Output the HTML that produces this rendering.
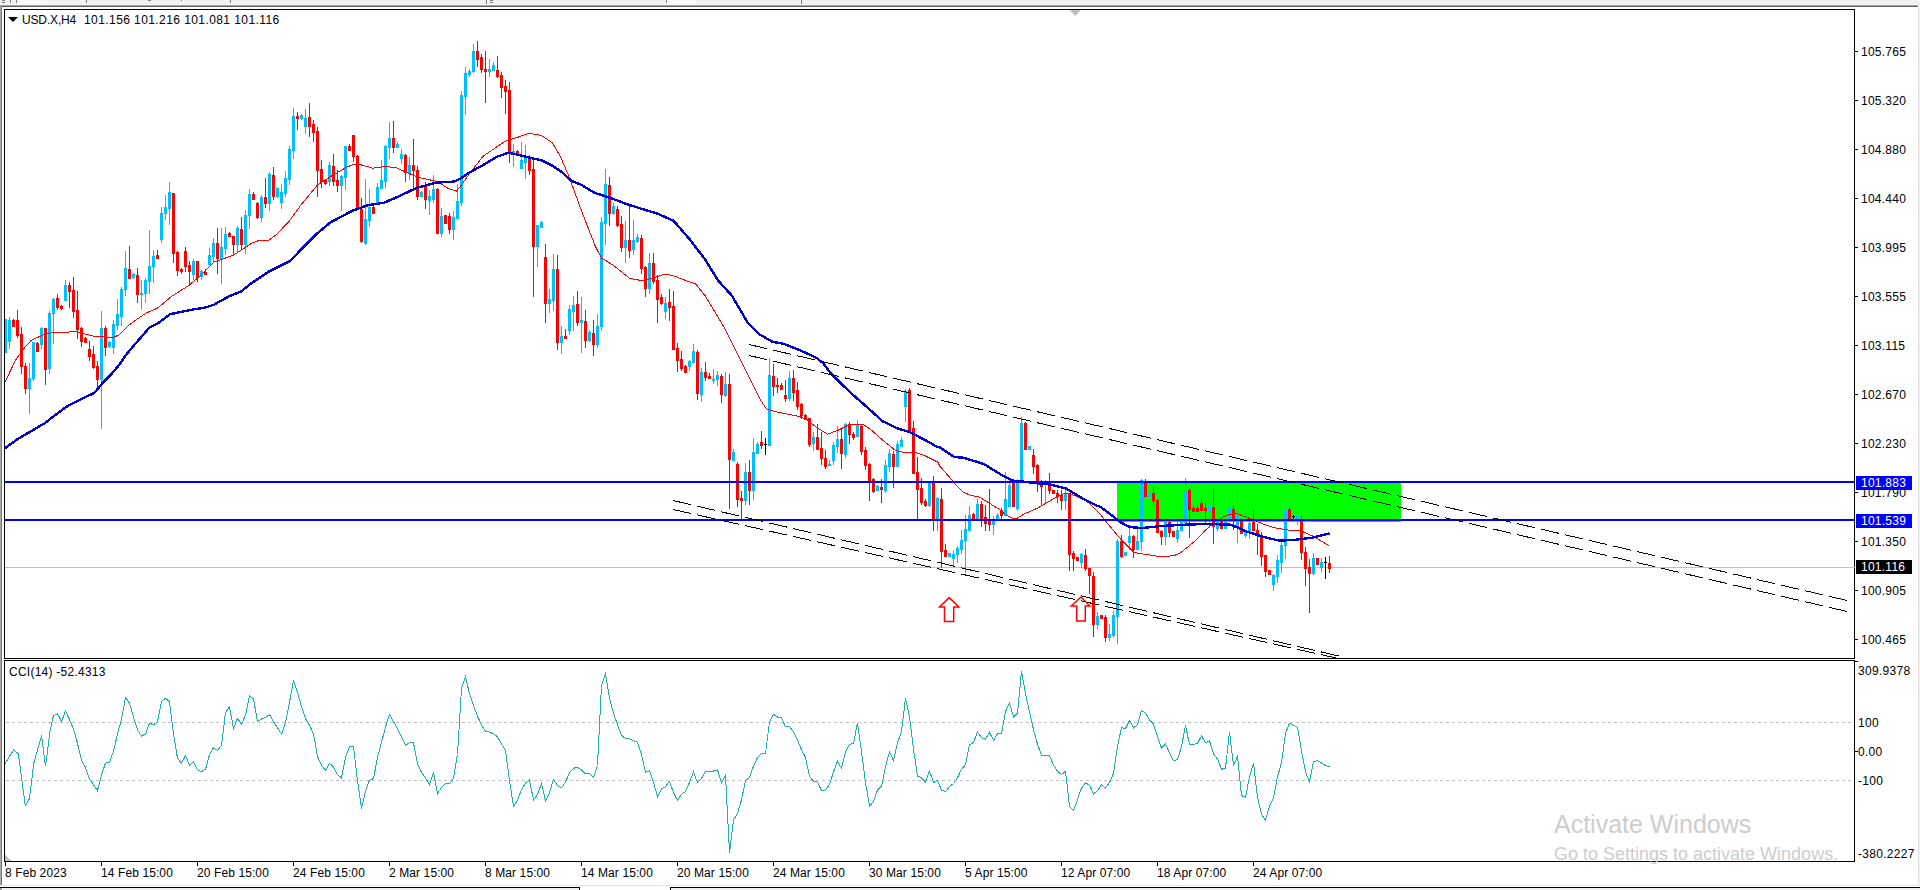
<!DOCTYPE html>
<html><head><meta charset="utf-8"><style>
html,body{margin:0;padding:0;}
body{width:1920px;height:890px;overflow:hidden;position:relative;background:#fff;font-family:"Liberation Sans",sans-serif;}
.t{position:absolute;font-size:12px;line-height:14px;letter-spacing:0.1px;color:#000;white-space:nowrap;}
.pl{position:absolute;left:1861px;font-size:12px;line-height:14px;letter-spacing:0.25px;color:#000;white-space:nowrap;}
.cl{position:absolute;left:1858px;font-size:12px;line-height:14px;letter-spacing:0.3px;color:#000;white-space:nowrap;}
.tl{position:absolute;top:866px;font-size:12px;line-height:14px;letter-spacing:0.1px;color:#000;white-space:nowrap;}
.box{position:absolute;left:1856px;width:56px;height:14px;}
.bt{position:absolute;left:1861px;font-size:12px;line-height:14px;letter-spacing:0.25px;color:#fff;white-space:nowrap;}
</style></head><body>
<svg width="1920" height="890" style="position:absolute;left:0;top:0" shape-rendering="crispEdges">
<rect x="0" y="0" width="1920" height="5" fill="#f0f0f0"/>
<rect x="0" y="4" width="1920" height="1" fill="#f8f8f8"/>
<rect x="0" y="5" width="1918" height="1" fill="#a0a0a0"/>
<rect x="0" y="6" width="1918" height="1" fill="#646464"/>
<rect x="0" y="6" width="1" height="879" fill="#a8a8a8"/><rect x="1" y="6" width="1" height="879" fill="#787878"/>
<rect x="1918" y="7" width="1" height="879" fill="#e3e3e3"/>
<rect x="1919" y="0" width="1" height="890" fill="#f0f0f0"/>
<rect x="2" y="885" width="1917" height="1" fill="#e3e3e3"/>
<rect x="0" y="888" width="1920" height="2" fill="#f0f0f0"/>
<rect x="0" y="887" width="580" height="1" fill="#000"/>
<rect x="670" y="887" width="1250" height="1" fill="#000"/>
<rect x="579" y="887" width="1" height="3" fill="#000"/>
<rect x="580" y="888" width="90" height="2" fill="#fff"/>
<rect x="670" y="887" width="1" height="3" fill="#000"/>
<rect x="2" y="888" width="1" height="2" fill="#fff"/>
<rect x="0" y="888" width="2" height="2" fill="#a0a0a0"/>
<!-- top bar marks -->
<rect x="2" y="0" width="3" height="1" fill="#808080"/><rect x="2" y="2" width="3" height="1" fill="#808080"/>
<rect x="10" y="0" width="1" height="3" fill="#808080"/>
<rect x="16" y="0" width="1" height="3" fill="#808080"/>
<rect x="17" y="0" width="30" height="4" fill="#f8f8f8"/>
<rect x="86" y="0" width="1" height="3" fill="#808080"/>
<rect x="148" y="0" width="3" height="1" fill="#808080"/>
<rect x="181" y="0" width="1" height="1" fill="#808080"/>
<rect x="230" y="0" width="1" height="3" fill="#808080"/>
<rect x="486" y="0" width="1" height="4" fill="#808080"/>
<rect x="490" y="0" width="3" height="1" fill="#808080"/><rect x="490" y="2" width="3" height="1" fill="#808080"/>
<rect x="666" y="0" width="1" height="3" fill="#808080"/>
<rect x="667" y="0" width="30" height="4" fill="#f8f8f8"/>
<rect x="801" y="0" width="1" height="4" fill="#808080"/>
<!-- green box -->
<rect x="1117" y="482" width="284" height="40" fill="#00ff00"/>
<!-- current price line -->
<rect x="5" y="567" width="1849" height="1" fill="#c0c0c0"/>
<!-- CCI levels -->
<line x1="6" y1="722.5" x2="1854" y2="722.5" stroke="#c0c0c0" stroke-width="1" stroke-dasharray="3 3"/>
<line x1="6" y1="780.5" x2="1854" y2="780.5" stroke="#c0c0c0" stroke-width="1" stroke-dasharray="3 3"/>
</svg>
<svg width="1920" height="890" style="position:absolute;left:0;top:0" shape-rendering="crispEdges">
<defs><clipPath id="mc"><rect x="5" y="10" width="1849" height="648"/></clipPath>
<clipPath id="cc"><rect x="5" y="661" width="1849" height="200"/></clipPath></defs>
<g clip-path="url(#mc)">
<g shape-rendering="crispEdges"><rect x="5" y="319" width="1" height="34" fill="#00bfff"/><rect x="4" y="319" width="3" height="34" fill="#00bfff"/><rect x="9" y="317" width="1" height="32" fill="#00bfff"/><rect x="8" y="320" width="3" height="22" fill="#00bfff"/><rect x="13" y="319" width="1" height="8" fill="#ff0000"/><rect x="12" y="320" width="3" height="7" fill="#ff0000"/><rect x="17" y="310" width="1" height="28" fill="#ff0000"/><rect x="16" y="320" width="3" height="16" fill="#ff0000"/><rect x="21" y="327" width="1" height="47" fill="#ff0000"/><rect x="20" y="334" width="3" height="33" fill="#ff0000"/><rect x="25" y="363" width="1" height="31" fill="#ff0000"/><rect x="24" y="366" width="3" height="23" fill="#ff0000"/><rect x="29" y="363" width="1" height="51" fill="#00bfff"/><rect x="28" y="378" width="3" height="11" fill="#00bfff"/><rect x="33" y="342" width="1" height="39" fill="#00bfff"/><rect x="32" y="342" width="3" height="37" fill="#00bfff"/><rect x="37" y="342" width="1" height="10" fill="#ff0000"/><rect x="36" y="343" width="3" height="9" fill="#ff0000"/><rect x="41" y="327" width="1" height="22" fill="#00bfff"/><rect x="40" y="328" width="3" height="17" fill="#00bfff"/><rect x="45" y="328" width="1" height="57" fill="#ff0000"/><rect x="44" y="328" width="3" height="42" fill="#ff0000"/><rect x="49" y="311" width="1" height="63" fill="#00bfff"/><rect x="48" y="313" width="3" height="56" fill="#00bfff"/><rect x="53" y="298" width="1" height="46" fill="#00bfff"/><rect x="52" y="299" width="3" height="15" fill="#00bfff"/><rect x="57" y="294" width="1" height="16" fill="#ff0000"/><rect x="56" y="298" width="3" height="10" fill="#ff0000"/><rect x="61" y="305" width="1" height="5" fill="#ff0000"/><rect x="60" y="306" width="3" height="3" fill="#ff0000"/><rect x="65" y="280" width="1" height="21" fill="#00bfff"/><rect x="64" y="285" width="3" height="16" fill="#00bfff"/><rect x="69" y="282" width="1" height="26" fill="#ff0000"/><rect x="68" y="285" width="3" height="7" fill="#ff0000"/><rect x="73" y="277" width="1" height="41" fill="#ff0000"/><rect x="72" y="290" width="3" height="22" fill="#ff0000"/><rect x="77" y="291" width="1" height="48" fill="#ff0000"/><rect x="76" y="310" width="3" height="20" fill="#ff0000"/><rect x="81" y="327" width="1" height="20" fill="#ff0000"/><rect x="80" y="328" width="3" height="14" fill="#ff0000"/><rect x="85" y="337" width="1" height="6" fill="#ff0000"/><rect x="84" y="338" width="3" height="5" fill="#ff0000"/><rect x="89" y="341" width="1" height="20" fill="#ff0000"/><rect x="88" y="349" width="3" height="8" fill="#ff0000"/><rect x="93" y="346" width="1" height="23" fill="#ff0000"/><rect x="92" y="354" width="3" height="14" fill="#ff0000"/><rect x="97" y="361" width="1" height="27" fill="#ff0000"/><rect x="96" y="366" width="3" height="14" fill="#ff0000"/><rect x="101" y="311" width="1" height="118" fill="#00bfff"/><rect x="100" y="328" width="3" height="52" fill="#00bfff"/><rect x="105" y="326" width="1" height="30" fill="#ff0000"/><rect x="104" y="328" width="3" height="20" fill="#ff0000"/><rect x="109" y="341" width="1" height="7" fill="#00bfff"/><rect x="108" y="342" width="3" height="5" fill="#00bfff"/><rect x="113" y="320" width="1" height="34" fill="#00bfff"/><rect x="112" y="324" width="3" height="24" fill="#00bfff"/><rect x="117" y="299" width="1" height="31" fill="#00bfff"/><rect x="116" y="314" width="3" height="12" fill="#00bfff"/><rect x="121" y="287" width="1" height="39" fill="#00bfff"/><rect x="120" y="289" width="3" height="28" fill="#00bfff"/><rect x="125" y="251" width="1" height="45" fill="#00bfff"/><rect x="124" y="268" width="3" height="22" fill="#00bfff"/><rect x="129" y="246" width="1" height="33" fill="#ff0000"/><rect x="128" y="269" width="3" height="10" fill="#ff0000"/><rect x="133" y="273" width="1" height="6" fill="#00bfff"/><rect x="132" y="274" width="3" height="4" fill="#00bfff"/><rect x="137" y="268" width="1" height="35" fill="#ff0000"/><rect x="136" y="275" width="3" height="20" fill="#ff0000"/><rect x="141" y="280" width="1" height="30" fill="#00bfff"/><rect x="140" y="293" width="3" height="2" fill="#00bfff"/><rect x="145" y="278" width="1" height="25" fill="#00bfff"/><rect x="144" y="280" width="3" height="14" fill="#00bfff"/><rect x="149" y="230" width="1" height="64" fill="#00bfff"/><rect x="148" y="266" width="3" height="16" fill="#00bfff"/><rect x="153" y="250" width="1" height="33" fill="#00bfff"/><rect x="152" y="256" width="3" height="11" fill="#00bfff"/><rect x="157" y="250" width="1" height="9" fill="#ff0000"/><rect x="156" y="255" width="3" height="4" fill="#ff0000"/><rect x="161" y="207" width="1" height="36" fill="#00bfff"/><rect x="160" y="213" width="3" height="27" fill="#00bfff"/><rect x="165" y="195" width="1" height="25" fill="#00bfff"/><rect x="164" y="207" width="3" height="7" fill="#00bfff"/><rect x="169" y="182" width="1" height="43" fill="#00bfff"/><rect x="168" y="192" width="3" height="17" fill="#00bfff"/><rect x="173" y="193" width="1" height="70" fill="#ff0000"/><rect x="172" y="193" width="3" height="61" fill="#ff0000"/><rect x="177" y="251" width="1" height="25" fill="#ff0000"/><rect x="176" y="252" width="3" height="19" fill="#ff0000"/><rect x="181" y="268" width="1" height="6" fill="#ff0000"/><rect x="180" y="269" width="3" height="3" fill="#ff0000"/><rect x="185" y="247" width="1" height="25" fill="#ff0000"/><rect x="184" y="251" width="3" height="16" fill="#ff0000"/><rect x="189" y="261" width="1" height="25" fill="#ff0000"/><rect x="188" y="265" width="3" height="7" fill="#ff0000"/><rect x="193" y="259" width="1" height="21" fill="#00bfff"/><rect x="192" y="261" width="3" height="14" fill="#00bfff"/><rect x="197" y="261" width="1" height="21" fill="#ff0000"/><rect x="196" y="261" width="3" height="17" fill="#ff0000"/><rect x="201" y="270" width="1" height="10" fill="#00bfff"/><rect x="200" y="271" width="3" height="6" fill="#00bfff"/><rect x="205" y="269" width="1" height="6" fill="#ff0000"/><rect x="204" y="272" width="3" height="3" fill="#ff0000"/><rect x="209" y="248" width="1" height="17" fill="#00bfff"/><rect x="208" y="255" width="3" height="10" fill="#00bfff"/><rect x="213" y="238" width="1" height="25" fill="#00bfff"/><rect x="212" y="243" width="3" height="14" fill="#00bfff"/><rect x="217" y="228" width="1" height="46" fill="#ff0000"/><rect x="216" y="243" width="3" height="16" fill="#ff0000"/><rect x="221" y="228" width="1" height="56" fill="#00bfff"/><rect x="220" y="247" width="3" height="12" fill="#00bfff"/><rect x="225" y="227" width="1" height="28" fill="#00bfff"/><rect x="224" y="234" width="3" height="15" fill="#00bfff"/><rect x="229" y="232" width="1" height="5" fill="#ff0000"/><rect x="228" y="233" width="3" height="4" fill="#ff0000"/><rect x="233" y="236" width="1" height="19" fill="#ff0000"/><rect x="232" y="236" width="3" height="9" fill="#ff0000"/><rect x="237" y="226" width="1" height="27" fill="#00bfff"/><rect x="236" y="228" width="3" height="17" fill="#00bfff"/><rect x="241" y="217" width="1" height="32" fill="#ff0000"/><rect x="240" y="229" width="3" height="16" fill="#ff0000"/><rect x="245" y="210" width="1" height="44" fill="#00bfff"/><rect x="244" y="215" width="3" height="30" fill="#00bfff"/><rect x="249" y="189" width="1" height="40" fill="#00bfff"/><rect x="248" y="194" width="3" height="22" fill="#00bfff"/><rect x="253" y="192" width="1" height="8" fill="#ff0000"/><rect x="252" y="194" width="3" height="6" fill="#ff0000"/><rect x="257" y="202" width="1" height="17" fill="#ff0000"/><rect x="256" y="203" width="3" height="15" fill="#ff0000"/><rect x="261" y="195" width="1" height="27" fill="#00bfff"/><rect x="260" y="197" width="3" height="21" fill="#00bfff"/><rect x="265" y="178" width="1" height="30" fill="#ff0000"/><rect x="264" y="197" width="3" height="7" fill="#ff0000"/><rect x="269" y="172" width="1" height="39" fill="#00bfff"/><rect x="268" y="174" width="3" height="30" fill="#00bfff"/><rect x="273" y="167" width="1" height="33" fill="#ff0000"/><rect x="272" y="175" width="3" height="22" fill="#ff0000"/><rect x="277" y="187" width="1" height="11" fill="#00bfff"/><rect x="276" y="188" width="3" height="9" fill="#00bfff"/><rect x="281" y="184" width="1" height="25" fill="#00bfff"/><rect x="280" y="192" width="3" height="11" fill="#00bfff"/><rect x="285" y="171" width="1" height="26" fill="#00bfff"/><rect x="284" y="178" width="3" height="16" fill="#00bfff"/><rect x="289" y="146" width="1" height="39" fill="#00bfff"/><rect x="288" y="149" width="3" height="31" fill="#00bfff"/><rect x="293" y="108" width="1" height="51" fill="#00bfff"/><rect x="292" y="116" width="3" height="35" fill="#00bfff"/><rect x="297" y="112" width="1" height="18" fill="#ff0000"/><rect x="296" y="116" width="3" height="3" fill="#ff0000"/><rect x="301" y="114" width="1" height="6" fill="#00bfff"/><rect x="300" y="115" width="3" height="4" fill="#00bfff"/><rect x="305" y="109" width="1" height="25" fill="#00bfff"/><rect x="304" y="118" width="3" height="9" fill="#00bfff"/><rect x="309" y="103" width="1" height="34" fill="#ff0000"/><rect x="308" y="117" width="3" height="10" fill="#ff0000"/><rect x="313" y="120" width="1" height="22" fill="#ff0000"/><rect x="312" y="124" width="3" height="9" fill="#ff0000"/><rect x="317" y="127" width="1" height="70" fill="#ff0000"/><rect x="316" y="131" width="3" height="40" fill="#ff0000"/><rect x="321" y="160" width="1" height="28" fill="#ff0000"/><rect x="320" y="169" width="3" height="13" fill="#ff0000"/><rect x="325" y="180" width="1" height="5" fill="#ff0000"/><rect x="324" y="180" width="3" height="4" fill="#ff0000"/><rect x="329" y="162" width="1" height="24" fill="#00bfff"/><rect x="328" y="165" width="3" height="17" fill="#00bfff"/><rect x="333" y="154" width="1" height="32" fill="#ff0000"/><rect x="332" y="166" width="3" height="16" fill="#ff0000"/><rect x="337" y="170" width="1" height="22" fill="#ff0000"/><rect x="336" y="180" width="3" height="6" fill="#ff0000"/><rect x="341" y="175" width="1" height="36" fill="#00bfff"/><rect x="340" y="176" width="3" height="10" fill="#00bfff"/><rect x="345" y="146" width="1" height="44" fill="#00bfff"/><rect x="344" y="146" width="3" height="32" fill="#00bfff"/><rect x="349" y="144" width="1" height="7" fill="#ff0000"/><rect x="348" y="146" width="3" height="5" fill="#ff0000"/><rect x="353" y="135" width="1" height="27" fill="#ff0000"/><rect x="352" y="135" width="3" height="22" fill="#ff0000"/><rect x="357" y="155" width="1" height="55" fill="#ff0000"/><rect x="356" y="156" width="3" height="54" fill="#ff0000"/><rect x="361" y="198" width="1" height="45" fill="#ff0000"/><rect x="360" y="209" width="3" height="33" fill="#ff0000"/><rect x="365" y="179" width="1" height="66" fill="#00bfff"/><rect x="364" y="219" width="3" height="25" fill="#00bfff"/><rect x="369" y="189" width="1" height="38" fill="#00bfff"/><rect x="368" y="207" width="3" height="14" fill="#00bfff"/><rect x="373" y="206" width="1" height="8" fill="#ff0000"/><rect x="372" y="207" width="3" height="7" fill="#ff0000"/><rect x="377" y="183" width="1" height="22" fill="#00bfff"/><rect x="376" y="187" width="3" height="16" fill="#00bfff"/><rect x="381" y="160" width="1" height="29" fill="#00bfff"/><rect x="380" y="180" width="3" height="9" fill="#00bfff"/><rect x="385" y="145" width="1" height="43" fill="#00bfff"/><rect x="384" y="146" width="3" height="36" fill="#00bfff"/><rect x="389" y="122" width="1" height="37" fill="#00bfff"/><rect x="388" y="138" width="3" height="10" fill="#00bfff"/><rect x="393" y="121" width="1" height="32" fill="#ff0000"/><rect x="392" y="138" width="3" height="10" fill="#ff0000"/><rect x="397" y="142" width="1" height="6" fill="#00bfff"/><rect x="396" y="144" width="3" height="4" fill="#00bfff"/><rect x="401" y="149" width="1" height="15" fill="#00bfff"/><rect x="400" y="154" width="3" height="5" fill="#00bfff"/><rect x="405" y="154" width="1" height="28" fill="#ff0000"/><rect x="404" y="155" width="3" height="18" fill="#ff0000"/><rect x="409" y="157" width="1" height="23" fill="#00bfff"/><rect x="408" y="165" width="3" height="8" fill="#00bfff"/><rect x="413" y="139" width="1" height="49" fill="#ff0000"/><rect x="412" y="165" width="3" height="6" fill="#ff0000"/><rect x="417" y="166" width="1" height="34" fill="#ff0000"/><rect x="416" y="170" width="3" height="27" fill="#ff0000"/><rect x="421" y="191" width="1" height="6" fill="#00bfff"/><rect x="420" y="192" width="3" height="5" fill="#00bfff"/><rect x="425" y="182" width="1" height="27" fill="#ff0000"/><rect x="424" y="186" width="3" height="14" fill="#ff0000"/><rect x="429" y="190" width="1" height="25" fill="#00bfff"/><rect x="428" y="196" width="3" height="5" fill="#00bfff"/><rect x="433" y="175" width="1" height="28" fill="#00bfff"/><rect x="432" y="189" width="3" height="11" fill="#00bfff"/><rect x="437" y="188" width="1" height="46" fill="#ff0000"/><rect x="436" y="189" width="3" height="45" fill="#ff0000"/><rect x="441" y="208" width="1" height="29" fill="#00bfff"/><rect x="440" y="216" width="3" height="18" fill="#00bfff"/><rect x="445" y="215" width="1" height="9" fill="#ff0000"/><rect x="444" y="215" width="3" height="9" fill="#ff0000"/><rect x="449" y="213" width="1" height="21" fill="#ff0000"/><rect x="448" y="216" width="3" height="14" fill="#ff0000"/><rect x="453" y="211" width="1" height="29" fill="#00bfff"/><rect x="452" y="217" width="3" height="13" fill="#00bfff"/><rect x="457" y="184" width="1" height="35" fill="#00bfff"/><rect x="456" y="201" width="3" height="18" fill="#00bfff"/><rect x="461" y="91" width="1" height="115" fill="#00bfff"/><rect x="460" y="95" width="3" height="108" fill="#00bfff"/><rect x="465" y="67" width="1" height="48" fill="#00bfff"/><rect x="464" y="73" width="3" height="24" fill="#00bfff"/><rect x="469" y="69" width="1" height="8" fill="#00bfff"/><rect x="468" y="71" width="3" height="4" fill="#00bfff"/><rect x="473" y="44" width="1" height="29" fill="#00bfff"/><rect x="472" y="51" width="3" height="21" fill="#00bfff"/><rect x="477" y="41" width="1" height="26" fill="#ff0000"/><rect x="476" y="51" width="3" height="9" fill="#ff0000"/><rect x="481" y="54" width="1" height="19" fill="#ff0000"/><rect x="480" y="57" width="3" height="13" fill="#ff0000"/><rect x="485" y="51" width="1" height="52" fill="#ff0000"/><rect x="484" y="69" width="3" height="3" fill="#ff0000"/><rect x="489" y="59" width="1" height="18" fill="#00bfff"/><rect x="488" y="69" width="3" height="3" fill="#00bfff"/><rect x="493" y="62" width="1" height="9" fill="#00bfff"/><rect x="492" y="65" width="3" height="6" fill="#00bfff"/><rect x="497" y="56" width="1" height="22" fill="#ff0000"/><rect x="496" y="70" width="3" height="7" fill="#ff0000"/><rect x="501" y="72" width="1" height="26" fill="#ff0000"/><rect x="500" y="75" width="3" height="13" fill="#ff0000"/><rect x="505" y="80" width="1" height="34" fill="#ff0000"/><rect x="504" y="86" width="3" height="6" fill="#ff0000"/><rect x="509" y="82" width="1" height="81" fill="#ff0000"/><rect x="508" y="90" width="3" height="64" fill="#ff0000"/><rect x="513" y="144" width="1" height="23" fill="#00bfff"/><rect x="512" y="151" width="3" height="4" fill="#00bfff"/><rect x="517" y="150" width="1" height="6" fill="#ff0000"/><rect x="516" y="151" width="3" height="5" fill="#ff0000"/><rect x="521" y="142" width="1" height="27" fill="#00bfff"/><rect x="520" y="160" width="3" height="9" fill="#00bfff"/><rect x="525" y="145" width="1" height="34" fill="#00bfff"/><rect x="524" y="157" width="3" height="6" fill="#00bfff"/><rect x="529" y="155" width="1" height="20" fill="#ff0000"/><rect x="528" y="158" width="3" height="13" fill="#ff0000"/><rect x="533" y="157" width="1" height="140" fill="#ff0000"/><rect x="532" y="169" width="3" height="78" fill="#ff0000"/><rect x="537" y="225" width="1" height="42" fill="#00bfff"/><rect x="536" y="225" width="3" height="22" fill="#00bfff"/><rect x="541" y="221" width="1" height="7" fill="#00bfff"/><rect x="540" y="222" width="3" height="6" fill="#00bfff"/><rect x="545" y="244" width="1" height="79" fill="#ff0000"/><rect x="544" y="257" width="3" height="47" fill="#ff0000"/><rect x="549" y="289" width="1" height="24" fill="#00bfff"/><rect x="548" y="299" width="3" height="5" fill="#00bfff"/><rect x="553" y="254" width="1" height="57" fill="#00bfff"/><rect x="552" y="269" width="3" height="32" fill="#00bfff"/><rect x="557" y="255" width="1" height="95" fill="#ff0000"/><rect x="556" y="269" width="3" height="74" fill="#ff0000"/><rect x="561" y="326" width="1" height="28" fill="#00bfff"/><rect x="560" y="336" width="3" height="7" fill="#00bfff"/><rect x="565" y="329" width="1" height="10" fill="#ff0000"/><rect x="564" y="336" width="3" height="3" fill="#ff0000"/><rect x="569" y="305" width="1" height="30" fill="#00bfff"/><rect x="568" y="309" width="3" height="22" fill="#00bfff"/><rect x="573" y="296" width="1" height="35" fill="#00bfff"/><rect x="572" y="305" width="3" height="7" fill="#00bfff"/><rect x="577" y="291" width="1" height="35" fill="#ff0000"/><rect x="576" y="304" width="3" height="19" fill="#ff0000"/><rect x="581" y="297" width="1" height="56" fill="#00bfff"/><rect x="580" y="320" width="3" height="3" fill="#00bfff"/><rect x="585" y="310" width="1" height="38" fill="#ff0000"/><rect x="584" y="321" width="3" height="20" fill="#ff0000"/><rect x="589" y="330" width="1" height="12" fill="#00bfff"/><rect x="588" y="332" width="3" height="9" fill="#00bfff"/><rect x="593" y="320" width="1" height="36" fill="#ff0000"/><rect x="592" y="333" width="3" height="12" fill="#ff0000"/><rect x="597" y="314" width="1" height="34" fill="#00bfff"/><rect x="596" y="326" width="3" height="19" fill="#00bfff"/><rect x="601" y="217" width="1" height="114" fill="#00bfff"/><rect x="600" y="222" width="3" height="105" fill="#00bfff"/><rect x="605" y="169" width="1" height="76" fill="#00bfff"/><rect x="604" y="184" width="3" height="40" fill="#00bfff"/><rect x="609" y="177" width="1" height="49" fill="#ff0000"/><rect x="608" y="185" width="3" height="29" fill="#ff0000"/><rect x="613" y="203" width="1" height="12" fill="#00bfff"/><rect x="612" y="206" width="3" height="8" fill="#00bfff"/><rect x="617" y="206" width="1" height="21" fill="#ff0000"/><rect x="616" y="209" width="3" height="17" fill="#ff0000"/><rect x="621" y="216" width="1" height="36" fill="#ff0000"/><rect x="620" y="224" width="3" height="24" fill="#ff0000"/><rect x="625" y="221" width="1" height="42" fill="#00bfff"/><rect x="624" y="240" width="3" height="8" fill="#00bfff"/><rect x="629" y="205" width="1" height="53" fill="#ff0000"/><rect x="628" y="240" width="3" height="11" fill="#ff0000"/><rect x="633" y="220" width="1" height="35" fill="#00bfff"/><rect x="632" y="240" width="3" height="10" fill="#00bfff"/><rect x="637" y="234" width="1" height="9" fill="#00bfff"/><rect x="636" y="237" width="3" height="5" fill="#00bfff"/><rect x="641" y="235" width="1" height="39" fill="#ff0000"/><rect x="640" y="238" width="3" height="31" fill="#ff0000"/><rect x="645" y="266" width="1" height="31" fill="#ff0000"/><rect x="644" y="267" width="3" height="22" fill="#ff0000"/><rect x="649" y="253" width="1" height="41" fill="#00bfff"/><rect x="648" y="263" width="3" height="26" fill="#00bfff"/><rect x="653" y="253" width="1" height="31" fill="#ff0000"/><rect x="652" y="263" width="3" height="19" fill="#ff0000"/><rect x="657" y="275" width="1" height="48" fill="#ff0000"/><rect x="656" y="280" width="3" height="20" fill="#ff0000"/><rect x="661" y="294" width="1" height="11" fill="#ff0000"/><rect x="660" y="297" width="3" height="7" fill="#ff0000"/><rect x="665" y="297" width="1" height="22" fill="#00bfff"/><rect x="664" y="303" width="3" height="9" fill="#00bfff"/><rect x="669" y="289" width="1" height="32" fill="#ff0000"/><rect x="668" y="302" width="3" height="6" fill="#ff0000"/><rect x="673" y="291" width="1" height="59" fill="#ff0000"/><rect x="672" y="306" width="3" height="44" fill="#ff0000"/><rect x="677" y="343" width="1" height="29" fill="#ff0000"/><rect x="676" y="348" width="3" height="13" fill="#ff0000"/><rect x="681" y="351" width="1" height="20" fill="#ff0000"/><rect x="680" y="359" width="3" height="10" fill="#ff0000"/><rect x="685" y="365" width="1" height="8" fill="#ff0000"/><rect x="684" y="366" width="3" height="7" fill="#ff0000"/><rect x="689" y="360" width="1" height="11" fill="#00bfff"/><rect x="688" y="361" width="3" height="6" fill="#00bfff"/><rect x="693" y="344" width="1" height="19" fill="#00bfff"/><rect x="692" y="351" width="3" height="12" fill="#00bfff"/><rect x="697" y="350" width="1" height="50" fill="#ff0000"/><rect x="696" y="352" width="3" height="42" fill="#ff0000"/><rect x="701" y="368" width="1" height="34" fill="#00bfff"/><rect x="700" y="372" width="3" height="23" fill="#00bfff"/><rect x="705" y="362" width="1" height="19" fill="#ff0000"/><rect x="704" y="372" width="3" height="6" fill="#ff0000"/><rect x="709" y="373" width="1" height="6" fill="#ff0000"/><rect x="708" y="376" width="3" height="3" fill="#ff0000"/><rect x="713" y="369" width="1" height="15" fill="#00bfff"/><rect x="712" y="379" width="3" height="2" fill="#00bfff"/><rect x="717" y="371" width="1" height="15" fill="#00bfff"/><rect x="716" y="375" width="3" height="5" fill="#00bfff"/><rect x="721" y="374" width="1" height="29" fill="#ff0000"/><rect x="720" y="376" width="3" height="19" fill="#ff0000"/><rect x="725" y="372" width="1" height="25" fill="#00bfff"/><rect x="724" y="384" width="3" height="12" fill="#00bfff"/><rect x="729" y="374" width="1" height="135" fill="#ff0000"/><rect x="728" y="384" width="3" height="76" fill="#ff0000"/><rect x="733" y="449" width="1" height="12" fill="#00bfff"/><rect x="732" y="452" width="3" height="9" fill="#00bfff"/><rect x="737" y="462" width="1" height="45" fill="#ff0000"/><rect x="736" y="464" width="3" height="36" fill="#ff0000"/><rect x="741" y="491" width="1" height="29" fill="#ff0000"/><rect x="740" y="498" width="3" height="3" fill="#ff0000"/><rect x="745" y="463" width="1" height="42" fill="#00bfff"/><rect x="744" y="472" width="3" height="29" fill="#00bfff"/><rect x="749" y="460" width="1" height="45" fill="#ff0000"/><rect x="748" y="472" width="3" height="19" fill="#ff0000"/><rect x="753" y="438" width="1" height="62" fill="#00bfff"/><rect x="752" y="452" width="3" height="39" fill="#00bfff"/><rect x="757" y="442" width="1" height="12" fill="#00bfff"/><rect x="756" y="444" width="3" height="10" fill="#00bfff"/><rect x="761" y="431" width="1" height="18" fill="#ff0000"/><rect x="760" y="442" width="3" height="4" fill="#ff0000"/><rect x="765" y="438" width="1" height="17" fill="#000000"/><rect x="764" y="444" width="3" height="1" fill="#000000"/><rect x="769" y="358" width="1" height="88" fill="#00bfff"/><rect x="768" y="375" width="3" height="71" fill="#00bfff"/><rect x="773" y="364" width="1" height="32" fill="#ff0000"/><rect x="772" y="376" width="3" height="11" fill="#ff0000"/><rect x="777" y="378" width="1" height="15" fill="#ff0000"/><rect x="776" y="385" width="3" height="2" fill="#ff0000"/><rect x="781" y="383" width="1" height="7" fill="#ff0000"/><rect x="780" y="385" width="3" height="5" fill="#ff0000"/><rect x="785" y="380" width="1" height="22" fill="#ff0000"/><rect x="784" y="395" width="3" height="4" fill="#ff0000"/><rect x="789" y="371" width="1" height="30" fill="#00bfff"/><rect x="788" y="378" width="3" height="21" fill="#00bfff"/><rect x="793" y="370" width="1" height="31" fill="#ff0000"/><rect x="792" y="378" width="3" height="15" fill="#ff0000"/><rect x="797" y="382" width="1" height="28" fill="#ff0000"/><rect x="796" y="390" width="3" height="17" fill="#ff0000"/><rect x="801" y="403" width="1" height="16" fill="#ff0000"/><rect x="800" y="404" width="3" height="12" fill="#ff0000"/><rect x="805" y="414" width="1" height="6" fill="#ff0000"/><rect x="804" y="415" width="3" height="5" fill="#ff0000"/><rect x="809" y="418" width="1" height="29" fill="#ff0000"/><rect x="808" y="418" width="3" height="27" fill="#ff0000"/><rect x="813" y="432" width="1" height="19" fill="#00bfff"/><rect x="812" y="437" width="3" height="7" fill="#00bfff"/><rect x="817" y="424" width="1" height="26" fill="#ff0000"/><rect x="816" y="437" width="3" height="13" fill="#ff0000"/><rect x="821" y="432" width="1" height="33" fill="#ff0000"/><rect x="820" y="448" width="3" height="11" fill="#ff0000"/><rect x="825" y="450" width="1" height="19" fill="#ff0000"/><rect x="824" y="458" width="3" height="9" fill="#ff0000"/><rect x="829" y="460" width="1" height="6" fill="#00bfff"/><rect x="828" y="464" width="3" height="2" fill="#00bfff"/><rect x="833" y="442" width="1" height="23" fill="#00bfff"/><rect x="832" y="445" width="3" height="16" fill="#00bfff"/><rect x="837" y="426" width="1" height="27" fill="#00bfff"/><rect x="836" y="439" width="3" height="8" fill="#00bfff"/><rect x="841" y="429" width="1" height="40" fill="#ff0000"/><rect x="840" y="439" width="3" height="15" fill="#ff0000"/><rect x="845" y="423" width="1" height="35" fill="#00bfff"/><rect x="844" y="424" width="3" height="31" fill="#00bfff"/><rect x="849" y="422" width="1" height="22" fill="#ff0000"/><rect x="848" y="424" width="3" height="11" fill="#ff0000"/><rect x="853" y="432" width="1" height="8" fill="#ff0000"/><rect x="852" y="434" width="3" height="4" fill="#ff0000"/><rect x="857" y="420" width="1" height="17" fill="#00bfff"/><rect x="856" y="425" width="3" height="12" fill="#00bfff"/><rect x="861" y="425" width="1" height="30" fill="#ff0000"/><rect x="860" y="426" width="3" height="26" fill="#ff0000"/><rect x="865" y="447" width="1" height="23" fill="#ff0000"/><rect x="864" y="450" width="3" height="16" fill="#ff0000"/><rect x="869" y="463" width="1" height="38" fill="#ff0000"/><rect x="868" y="464" width="3" height="17" fill="#ff0000"/><rect x="873" y="478" width="1" height="15" fill="#ff0000"/><rect x="872" y="479" width="3" height="13" fill="#ff0000"/><rect x="877" y="485" width="1" height="6" fill="#00bfff"/><rect x="876" y="486" width="3" height="5" fill="#00bfff"/><rect x="881" y="479" width="1" height="24" fill="#ff0000"/><rect x="880" y="487" width="3" height="3" fill="#ff0000"/><rect x="885" y="460" width="1" height="33" fill="#00bfff"/><rect x="884" y="465" width="3" height="26" fill="#00bfff"/><rect x="889" y="449" width="1" height="23" fill="#00bfff"/><rect x="888" y="453" width="3" height="14" fill="#00bfff"/><rect x="893" y="451" width="1" height="37" fill="#ff0000"/><rect x="892" y="454" width="3" height="13" fill="#ff0000"/><rect x="897" y="441" width="1" height="26" fill="#00bfff"/><rect x="896" y="444" width="3" height="23" fill="#00bfff"/><rect x="901" y="437" width="1" height="10" fill="#00bfff"/><rect x="900" y="440" width="3" height="7" fill="#00bfff"/><rect x="905" y="389" width="1" height="33" fill="#00bfff"/><rect x="904" y="391" width="3" height="16" fill="#00bfff"/><rect x="909" y="388" width="1" height="43" fill="#ff0000"/><rect x="908" y="390" width="3" height="41" fill="#ff0000"/><rect x="913" y="421" width="1" height="53" fill="#ff0000"/><rect x="912" y="428" width="3" height="46" fill="#ff0000"/><rect x="917" y="457" width="1" height="62" fill="#ff0000"/><rect x="916" y="472" width="3" height="18" fill="#ff0000"/><rect x="921" y="478" width="1" height="27" fill="#ff0000"/><rect x="920" y="488" width="3" height="15" fill="#ff0000"/><rect x="925" y="499" width="1" height="8" fill="#ff0000"/><rect x="924" y="501" width="3" height="5" fill="#ff0000"/><rect x="929" y="482" width="1" height="25" fill="#00bfff"/><rect x="928" y="483" width="3" height="23" fill="#00bfff"/><rect x="933" y="476" width="1" height="55" fill="#ff0000"/><rect x="932" y="482" width="3" height="38" fill="#ff0000"/><rect x="937" y="497" width="1" height="34" fill="#00bfff"/><rect x="936" y="498" width="3" height="22" fill="#00bfff"/><rect x="941" y="488" width="1" height="80" fill="#ff0000"/><rect x="940" y="499" width="3" height="53" fill="#ff0000"/><rect x="945" y="544" width="1" height="13" fill="#ff0000"/><rect x="944" y="550" width="3" height="7" fill="#ff0000"/><rect x="949" y="553" width="1" height="4" fill="#00bfff"/><rect x="948" y="553" width="3" height="4" fill="#00bfff"/><rect x="953" y="550" width="1" height="17" fill="#00bfff"/><rect x="952" y="554" width="3" height="5" fill="#00bfff"/><rect x="957" y="546" width="1" height="17" fill="#00bfff"/><rect x="956" y="548" width="3" height="7" fill="#00bfff"/><rect x="961" y="530" width="1" height="24" fill="#00bfff"/><rect x="960" y="540" width="3" height="10" fill="#00bfff"/><rect x="965" y="515" width="1" height="58" fill="#00bfff"/><rect x="964" y="529" width="3" height="12" fill="#00bfff"/><rect x="969" y="506" width="1" height="25" fill="#00bfff"/><rect x="968" y="515" width="3" height="16" fill="#00bfff"/><rect x="973" y="513" width="1" height="7" fill="#ff0000"/><rect x="972" y="514" width="3" height="6" fill="#ff0000"/><rect x="977" y="499" width="1" height="21" fill="#00bfff"/><rect x="976" y="504" width="3" height="16" fill="#00bfff"/><rect x="981" y="501" width="1" height="26" fill="#ff0000"/><rect x="980" y="504" width="3" height="15" fill="#ff0000"/><rect x="985" y="505" width="1" height="26" fill="#ff0000"/><rect x="984" y="517" width="3" height="7" fill="#ff0000"/><rect x="989" y="489" width="1" height="42" fill="#ff0000"/><rect x="988" y="520" width="3" height="5" fill="#ff0000"/><rect x="993" y="516" width="1" height="19" fill="#00bfff"/><rect x="992" y="519" width="3" height="6" fill="#00bfff"/><rect x="997" y="513" width="1" height="7" fill="#00bfff"/><rect x="996" y="515" width="3" height="5" fill="#00bfff"/><rect x="1001" y="508" width="1" height="12" fill="#ff0000"/><rect x="1000" y="510" width="3" height="6" fill="#ff0000"/><rect x="1005" y="472" width="1" height="44" fill="#00bfff"/><rect x="1004" y="499" width="3" height="17" fill="#00bfff"/><rect x="1009" y="478" width="1" height="29" fill="#00bfff"/><rect x="1008" y="485" width="3" height="22" fill="#00bfff"/><rect x="1013" y="479" width="1" height="28" fill="#ff0000"/><rect x="1012" y="483" width="3" height="24" fill="#ff0000"/><rect x="1017" y="479" width="1" height="32" fill="#00bfff"/><rect x="1016" y="480" width="3" height="29" fill="#00bfff"/><rect x="1021" y="417" width="1" height="64" fill="#00bfff"/><rect x="1020" y="423" width="3" height="58" fill="#00bfff"/><rect x="1025" y="422" width="1" height="28" fill="#ff0000"/><rect x="1024" y="423" width="3" height="27" fill="#ff0000"/><rect x="1029" y="446" width="1" height="4" fill="#00bfff"/><rect x="1028" y="446" width="3" height="4" fill="#00bfff"/><rect x="1033" y="449" width="1" height="25" fill="#ff0000"/><rect x="1032" y="455" width="3" height="12" fill="#ff0000"/><rect x="1037" y="464" width="1" height="28" fill="#ff0000"/><rect x="1036" y="465" width="3" height="18" fill="#ff0000"/><rect x="1041" y="480" width="1" height="26" fill="#ff0000"/><rect x="1040" y="482" width="3" height="5" fill="#ff0000"/><rect x="1045" y="480" width="1" height="24" fill="#00bfff"/><rect x="1044" y="482" width="3" height="3" fill="#00bfff"/><rect x="1049" y="473" width="1" height="21" fill="#ff0000"/><rect x="1048" y="483" width="3" height="8" fill="#ff0000"/><rect x="1053" y="490" width="1" height="4" fill="#ff0000"/><rect x="1052" y="490" width="3" height="4" fill="#ff0000"/><rect x="1057" y="490" width="1" height="13" fill="#ff0000"/><rect x="1056" y="493" width="3" height="4" fill="#ff0000"/><rect x="1061" y="490" width="1" height="20" fill="#ff0000"/><rect x="1060" y="495" width="3" height="6" fill="#ff0000"/><rect x="1065" y="490" width="1" height="20" fill="#00bfff"/><rect x="1064" y="493" width="3" height="8" fill="#00bfff"/><rect x="1069" y="493" width="1" height="78" fill="#ff0000"/><rect x="1068" y="493" width="3" height="62" fill="#ff0000"/><rect x="1073" y="551" width="1" height="20" fill="#ff0000"/><rect x="1072" y="553" width="3" height="6" fill="#ff0000"/><rect x="1077" y="557" width="1" height="4" fill="#ff0000"/><rect x="1076" y="557" width="3" height="4" fill="#ff0000"/><rect x="1081" y="553" width="1" height="15" fill="#00bfff"/><rect x="1080" y="554" width="3" height="9" fill="#00bfff"/><rect x="1085" y="549" width="1" height="22" fill="#ff0000"/><rect x="1084" y="555" width="3" height="14" fill="#ff0000"/><rect x="1089" y="568" width="1" height="26" fill="#ff0000"/><rect x="1088" y="568" width="3" height="8" fill="#ff0000"/><rect x="1093" y="572" width="1" height="65" fill="#ff0000"/><rect x="1092" y="576" width="3" height="49" fill="#ff0000"/><rect x="1097" y="612" width="1" height="17" fill="#00bfff"/><rect x="1096" y="616" width="3" height="9" fill="#00bfff"/><rect x="1101" y="615" width="1" height="4" fill="#ff0000"/><rect x="1100" y="615" width="3" height="4" fill="#ff0000"/><rect x="1105" y="615" width="1" height="27" fill="#ff0000"/><rect x="1104" y="617" width="3" height="21" fill="#ff0000"/><rect x="1109" y="624" width="1" height="17" fill="#00bfff"/><rect x="1108" y="634" width="3" height="4" fill="#00bfff"/><rect x="1113" y="611" width="1" height="27" fill="#00bfff"/><rect x="1112" y="615" width="3" height="21" fill="#00bfff"/><rect x="1117" y="539" width="1" height="105" fill="#00bfff"/><rect x="1116" y="541" width="3" height="76" fill="#00bfff"/><rect x="1121" y="535" width="1" height="23" fill="#ff0000"/><rect x="1120" y="541" width="3" height="16" fill="#ff0000"/><rect x="1125" y="552" width="1" height="4" fill="#00bfff"/><rect x="1124" y="552" width="3" height="4" fill="#00bfff"/><rect x="1129" y="527" width="1" height="23" fill="#00bfff"/><rect x="1128" y="536" width="3" height="7" fill="#00bfff"/><rect x="1133" y="535" width="1" height="23" fill="#ff0000"/><rect x="1132" y="536" width="3" height="14" fill="#ff0000"/><rect x="1137" y="526" width="1" height="24" fill="#00bfff"/><rect x="1136" y="541" width="3" height="9" fill="#00bfff"/><rect x="1141" y="479" width="1" height="72" fill="#00bfff"/><rect x="1140" y="480" width="3" height="62" fill="#00bfff"/><rect x="1145" y="479" width="1" height="18" fill="#ff0000"/><rect x="1144" y="483" width="3" height="14" fill="#ff0000"/><rect x="1149" y="493" width="1" height="4" fill="#00bfff"/><rect x="1148" y="493" width="3" height="4" fill="#00bfff"/><rect x="1153" y="487" width="1" height="18" fill="#ff0000"/><rect x="1152" y="493" width="3" height="8" fill="#ff0000"/><rect x="1157" y="499" width="1" height="34" fill="#ff0000"/><rect x="1156" y="500" width="3" height="33" fill="#ff0000"/><rect x="1161" y="530" width="1" height="15" fill="#ff0000"/><rect x="1160" y="531" width="3" height="6" fill="#ff0000"/><rect x="1165" y="510" width="1" height="35" fill="#00bfff"/><rect x="1164" y="522" width="3" height="15" fill="#00bfff"/><rect x="1169" y="521" width="1" height="16" fill="#ff0000"/><rect x="1168" y="522" width="3" height="11" fill="#ff0000"/><rect x="1173" y="531" width="1" height="6" fill="#ff0000"/><rect x="1172" y="531" width="3" height="6" fill="#ff0000"/><rect x="1177" y="522" width="1" height="21" fill="#00bfff"/><rect x="1176" y="530" width="3" height="9" fill="#00bfff"/><rect x="1181" y="503" width="1" height="28" fill="#00bfff"/><rect x="1180" y="521" width="3" height="10" fill="#00bfff"/><rect x="1185" y="478" width="1" height="45" fill="#00bfff"/><rect x="1184" y="491" width="3" height="32" fill="#00bfff"/><rect x="1189" y="488" width="1" height="50" fill="#ff0000"/><rect x="1188" y="490" width="3" height="20" fill="#ff0000"/><rect x="1193" y="506" width="1" height="6" fill="#ff0000"/><rect x="1192" y="508" width="3" height="4" fill="#ff0000"/><rect x="1197" y="505" width="1" height="7" fill="#ff0000"/><rect x="1196" y="508" width="3" height="4" fill="#ff0000"/><rect x="1201" y="498" width="1" height="13" fill="#ff0000"/><rect x="1200" y="503" width="3" height="8" fill="#ff0000"/><rect x="1205" y="503" width="1" height="22" fill="#ff0000"/><rect x="1204" y="508" width="3" height="3" fill="#ff0000"/><rect x="1209" y="505" width="1" height="23" fill="#00bfff"/><rect x="1208" y="506" width="3" height="5" fill="#00bfff"/><rect x="1213" y="488" width="1" height="56" fill="#ff0000"/><rect x="1212" y="507" width="3" height="20" fill="#ff0000"/><rect x="1217" y="512" width="1" height="19" fill="#00bfff"/><rect x="1216" y="519" width="3" height="10" fill="#00bfff"/><rect x="1221" y="518" width="1" height="11" fill="#ff0000"/><rect x="1220" y="519" width="3" height="10" fill="#ff0000"/><rect x="1225" y="520" width="1" height="9" fill="#00bfff"/><rect x="1224" y="522" width="3" height="7" fill="#00bfff"/><rect x="1229" y="492" width="1" height="30" fill="#00bfff"/><rect x="1228" y="508" width="3" height="14" fill="#00bfff"/><rect x="1233" y="505" width="1" height="25" fill="#ff0000"/><rect x="1232" y="509" width="3" height="12" fill="#ff0000"/><rect x="1237" y="487" width="1" height="56" fill="#00bfff"/><rect x="1236" y="516" width="3" height="11" fill="#00bfff"/><rect x="1241" y="521" width="1" height="13" fill="#ff0000"/><rect x="1240" y="521" width="3" height="13" fill="#ff0000"/><rect x="1245" y="532" width="1" height="6" fill="#00bfff"/><rect x="1244" y="532" width="3" height="4" fill="#00bfff"/><rect x="1249" y="521" width="1" height="18" fill="#00bfff"/><rect x="1248" y="523" width="3" height="10" fill="#00bfff"/><rect x="1253" y="510" width="1" height="21" fill="#ff0000"/><rect x="1252" y="522" width="3" height="9" fill="#ff0000"/><rect x="1257" y="524" width="1" height="31" fill="#ff0000"/><rect x="1256" y="530" width="3" height="6" fill="#ff0000"/><rect x="1261" y="532" width="1" height="34" fill="#ff0000"/><rect x="1260" y="535" width="3" height="22" fill="#ff0000"/><rect x="1265" y="555" width="1" height="22" fill="#ff0000"/><rect x="1264" y="555" width="3" height="17" fill="#ff0000"/><rect x="1269" y="570" width="1" height="5" fill="#ff0000"/><rect x="1268" y="570" width="3" height="5" fill="#ff0000"/><rect x="1273" y="574" width="1" height="17" fill="#00bfff"/><rect x="1272" y="575" width="3" height="10" fill="#00bfff"/><rect x="1277" y="555" width="1" height="28" fill="#00bfff"/><rect x="1276" y="560" width="3" height="17" fill="#00bfff"/><rect x="1281" y="542" width="1" height="31" fill="#00bfff"/><rect x="1280" y="545" width="3" height="18" fill="#00bfff"/><rect x="1285" y="509" width="1" height="50" fill="#00bfff"/><rect x="1284" y="510" width="3" height="36" fill="#00bfff"/><rect x="1289" y="506" width="1" height="14" fill="#ff0000"/><rect x="1288" y="509" width="3" height="11" fill="#ff0000"/><rect x="1293" y="515" width="1" height="5" fill="#000000"/><rect x="1292" y="516" width="3" height="1" fill="#000000"/><rect x="1297" y="512" width="1" height="13" fill="#00bfff"/><rect x="1296" y="516" width="3" height="5" fill="#00bfff"/><rect x="1301" y="516" width="1" height="44" fill="#ff0000"/><rect x="1300" y="520" width="3" height="33" fill="#ff0000"/><rect x="1305" y="547" width="1" height="39" fill="#ff0000"/><rect x="1304" y="552" width="3" height="17" fill="#ff0000"/><rect x="1309" y="559" width="1" height="54" fill="#ff0000"/><rect x="1308" y="567" width="3" height="7" fill="#ff0000"/><rect x="1313" y="553" width="1" height="22" fill="#00bfff"/><rect x="1312" y="558" width="3" height="16" fill="#00bfff"/><rect x="1317" y="558" width="1" height="7" fill="#ff0000"/><rect x="1316" y="558" width="3" height="7" fill="#ff0000"/><rect x="1321" y="558" width="1" height="14" fill="#00bfff"/><rect x="1320" y="562" width="3" height="6" fill="#00bfff"/><rect x="1325" y="557" width="1" height="22" fill="#000000"/><rect x="1324" y="562" width="3" height="1" fill="#000000"/><rect x="1329" y="556" width="1" height="17" fill="#ff0000"/><rect x="1328" y="563" width="3" height="6" fill="#ff0000"/></g>
<polyline points="4.7,382.6 15.7,359.8 23.6,348.8 31.5,340.1 44.1,334.6 53.5,332.3 66.1,332.3 74.0,331.5 78.7,332.3 94.4,336.5 113.3,337.5 119.6,334.6 129.0,325.2 136.9,319.3 146.3,313.0 157.4,308.2 171.5,296.4 188.8,285.4 200.0,276.0 213.9,262.2 233.6,255.1 251.6,243.3 259.5,240.2 269.0,240.2 276.8,234.3 289.4,220.9 302.0,203.6 317.7,184.7 330.3,176.8 346.1,167.4 354.0,164.2 358.7,164.2 372.8,168.2 383.8,166.6 395.0,167.3 418.6,177.5 437.5,181.5 446.9,187.8 456.4,191.2 461.1,185.4 469.0,174.3 483.1,156.2 505.2,141.2 517.7,137.3 528.8,133.3 541.3,135.4 552.4,142.8 560.2,156.2 569.7,178.3 582.3,212.9 595.0,245.5 601.3,257.8 613.9,265.7 629.6,278.3 642.2,280.7 651.6,278.3 664.2,274.4 672.1,275.2 683.1,279.5 695.7,284.0 705.1,295.7 724.0,327.2 733.5,346.1 744.5,368.1 755.5,390.1 760.0,399.2 766.3,408.7 775.7,411.8 788.3,414.2 799.3,416.5 807.2,419.7 816.6,427.6 827.7,434.2 838.7,429.9 849.7,424.4 863.1,424.4 870.2,429.1 882.7,440.1 895.3,450.4 901.6,452.0 914.2,452.0 925.2,455.9 937.8,462.2 940.0,466.4 951.8,479.8 955.0,483.7 963.6,492.4 971.0,495.5 979.3,497.1 987.2,501.8 999.8,509.7 1006.1,515.2 1012.4,518.3 1017.1,518.3 1025.0,513.6 1037.6,508.1 1047.0,502.6 1056.4,497.1 1064.3,493.2 1070.6,494.0 1084.8,499.5 1091.1,505.0 1100.0,514.0 1108.5,524.7 1121.3,539.7 1134.2,552.5 1147.0,554.6 1156.0,556.0 1166.2,556.7 1175.0,555.2 1181.1,552.5 1194.0,541.8 1206.7,529.0 1219.6,518.3 1228.0,515.0 1236.6,513.6 1249.4,518.3 1262.3,523.7 1275.0,527.9 1287.9,530.0 1300.7,530.7 1313.5,536.5 1329.0,545.6" fill="none" stroke="#ff0000" stroke-width="1" stroke-linejoin="round"/>
<polyline points="4.0,448.9 17.3,439.3 36.2,428.2 45.6,422.7 54.3,415.7 66.1,407.0 74.7,402.3 94.4,392.8 102.3,383.4 110.1,375.5 119.6,364.5 125.9,355.0 133.8,345.6 149.5,327.5 157.4,323.6 170.0,314.2 195.0,309.1 204.4,307.8 213.9,304.7 229.6,296.0 240.6,291.8 250.1,284.2 269.0,271.6 289.4,261.4 316.2,234.3 330.3,222.5 352.4,210.7 368.1,205.1 383.8,202.8 395.0,198.0 404.4,193.7 417.0,187.8 435.9,182.7 454.8,181.5 459.5,179.1 470.5,172.0 483.1,165.0 497.3,156.6 508.3,152.8 517.7,154.7 530.3,157.9 541.3,160.2 552.4,165.7 561.8,172.0 571.2,180.7 580.7,184.6 595.0,193.0 610.7,198.0 626.5,204.0 642.2,209.0 658.0,213.8 673.7,220.9 689.4,239.0 705.1,259.4 717.7,280.0 731.9,295.7 747.6,322.5 760.0,334.7 772.6,341.8 783.6,343.8 794.6,348.1 805.6,352.8 816.6,358.0 823.0,363.0 830.8,373.3 841.8,384.3 854.4,396.1 867.0,407.1 882.7,421.3 898.5,428.8 909.5,432.0 925.2,440.1 937.8,447.2 940.0,447.5 954.2,457.0 963.6,457.8 984.1,464.1 1003.0,475.9 1012.4,480.6 1021.8,481.4 1034.4,482.9 1050.1,484.5 1065.9,488.4 1081.6,497.9 1097.4,505.8 1100.0,506.6 1112.8,516.2 1121.0,522.5 1127.8,526.2 1135.0,527.6 1142.7,527.9 1164.0,525.8 1185.4,524.7 1206.7,523.9 1230.2,524.7 1238.0,527.5 1245.2,531.1 1262.3,536.5 1279.3,540.7 1296.4,539.7 1313.5,537.5 1329.5,533.3" fill="none" stroke="#0000c8" stroke-width="2.4" stroke-linejoin="round"/>
<rect x="5" y="481" width="1849" height="2" fill="#0000ff" shape-rendering="crispEdges"/>
<rect x="5" y="519" width="1849" height="2" fill="#0000ff" shape-rendering="crispEdges"/>
<line x1="749" y1="344.5" x2="1847" y2="600.5" stroke="#000" stroke-width="1" stroke-dasharray="18.483 6.161"/>
<line x1="749" y1="355.5" x2="1847" y2="611.5" stroke="#000" stroke-width="1" stroke-dasharray="18.483 6.161"/>
<line x1="673" y1="500.5" x2="1345" y2="657.5" stroke="#000" stroke-width="1" stroke-dasharray="18.485 6.162"/>
<line x1="673" y1="509.5" x2="1345" y2="660" stroke="#000" stroke-width="1" stroke-dasharray="18.446 6.149"/>
<path shape-rendering="geometricPrecision" d="M949.2,597.6 L939.6,607 L944.5,607 L944.5,621.5 L953.7,621.5 L953.7,607 L958.9,607 Z" fill="none" stroke="#ff0000" stroke-width="1.5"/>
<path shape-rendering="geometricPrecision" d="M1081,597 L1071.3,606 L1076.7,606 L1076.7,621 L1085.3,621 L1085.3,606 L1089.9,606 Z" fill="none" stroke="#ff0000" stroke-width="1.5"/>
</g>
<g clip-path="url(#cc)">
<polyline points="5.0,763.6 13.5,750.0 18.3,753.7 25.3,805.7 29.5,798.7 33.7,763.6 41.6,735.5 45.5,766.4 50.0,731.3 53.4,715.8 57.5,713.7 61.5,721.4 65.5,711.2 69.5,719.6 73.5,729.0 77.5,743.3 81.5,760.4 85.5,767.2 89.5,779.1 93.5,784.6 97.5,790.6 101.5,774.8 105.5,763.1 109.5,762.0 113.5,751.4 117.5,734.1 121.5,719.1 125.5,697.5 129.5,703.1 133.5,717.1 137.5,729.9 141.5,736.0 145.5,734.1 149.5,723.2 153.5,724.8 157.5,721.8 161.5,701.3 165.5,698.2 169.5,702.0 173.5,733.6 177.5,758.6 181.5,763.0 185.5,755.7 189.5,765.2 193.5,761.9 197.5,769.8 201.5,771.5 205.5,769.4 209.5,754.7 213.5,747.8 217.5,750.4 221.5,745.2 225.5,712.5 229.5,706.8 233.5,728.4 237.5,718.4 241.5,724.3 245.5,715.0 249.5,696.0 253.5,698.9 257.5,721.5 261.5,719.0 265.5,717.2 269.5,714.7 273.5,721.6 277.5,727.8 281.5,734.1 285.5,722.9 289.5,702.3 293.5,680.5 297.5,692.6 301.5,706.6 305.5,718.7 309.5,725.3 313.5,733.8 317.5,756.3 321.5,765.5 325.5,770.3 329.5,763.3 333.5,766.8 337.5,774.7 341.5,777.9 345.5,757.5 349.5,746.6 353.5,746.5 357.5,780.9 361.5,808.6 365.5,791.3 369.5,780.2 373.5,778.6 377.5,757.4 381.5,742.2 385.5,727.1 389.5,714.6 393.5,721.7 397.5,728.7 401.5,736.9 405.5,745.4 409.5,742.7 413.5,742.8 417.5,763.8 421.5,772.6 425.5,778.0 429.5,784.6 433.5,772.1 437.5,793.8 441.5,787.3 445.5,783.3 449.5,784.0 453.5,778.4 457.5,754.5 461.5,688.5 465.5,676.9 469.5,693.7 473.5,705.8 477.5,716.3 481.5,725.1 485.5,731.3 489.5,732.2 493.5,733.8 497.5,736.8 501.5,743.8 505.5,750.6 509.5,780.3 513.5,806.5 517.5,800.0 521.5,789.6 525.5,783.0 529.5,780.1 533.5,799.9 537.5,794.4 541.5,783.3 545.5,800.8 549.5,792.8 553.5,779.5 557.5,785.5 561.5,787.9 565.5,782.1 569.5,772.6 573.5,768.3 577.5,767.2 581.5,770.0 585.5,773.8 589.5,773.7 593.5,777.3 597.5,765.5 601.5,685.2 605.5,674.0 609.5,697.8 613.5,713.3 617.5,724.8 621.5,735.2 625.5,738.5 629.5,738.9 633.5,740.8 637.5,742.1 641.5,754.4 645.5,772.3 649.5,770.9 653.5,782.5 657.5,796.6 661.5,788.8 665.5,786.6 669.5,781.4 673.5,792.6 677.5,800.2 681.5,794.2 685.5,791.6 689.5,782.3 693.5,771.8 697.5,782.6 701.5,778.3 705.5,771.5 709.5,771.7 713.5,771.0 717.5,769.9 721.5,782.9 725.5,775.4 729.5,852.9 733.5,820.0 737.5,813.3 741.5,799.8 745.5,780.6 749.5,777.4 753.5,766.1 757.5,757.6 761.5,753.7 765.5,753.6 769.5,721.7 773.5,714.3 777.5,717.1 781.5,717.7 785.5,726.8 789.5,726.6 793.5,731.9 797.5,740.0 801.5,749.7 805.5,757.5 809.5,776.4 813.5,781.1 817.5,782.1 821.5,790.6 825.5,789.9 829.5,784.6 833.5,771.8 837.5,761.3 841.5,768.2 845.5,751.6 849.5,744.4 853.5,743.3 857.5,722.8 861.5,751.7 865.5,782.6 869.5,806.0 873.5,801.7 877.5,790.1 881.5,786.1 885.5,766.8 889.5,751.9 893.5,760.5 897.5,742.5 901.5,731.7 905.5,698.2 909.5,717.0 913.5,749.2 917.5,776.1 921.5,777.8 925.5,781.9 929.5,771.3 933.5,782.5 937.5,780.4 941.5,790.0 945.5,791.7 949.5,786.5 953.5,783.5 957.5,777.6 961.5,769.3 965.5,764.7 969.5,745.1 973.5,742.4 977.5,731.9 981.5,737.8 985.5,739.0 989.5,732.4 993.5,740.3 997.5,733.8 1001.5,733.6 1005.5,711.5 1009.5,703.1 1013.5,717.1 1017.5,713.1 1021.5,670.8 1025.5,694.0 1029.5,711.9 1033.5,729.7 1037.5,744.3 1041.5,755.3 1045.5,755.4 1049.5,755.8 1053.5,764.9 1057.5,771.2 1061.5,774.6 1065.5,771.3 1069.5,806.2 1073.5,810.4 1077.5,799.7 1081.5,788.1 1085.5,782.8 1089.5,785.1 1093.5,793.9 1097.5,790.7 1101.5,784.9 1105.5,788.0 1109.5,782.7 1113.5,773.3 1117.5,746.3 1121.5,727.6 1125.5,728.6 1129.5,720.6 1133.5,727.9 1137.5,724.6 1141.5,710.5 1145.5,713.1 1149.5,719.8 1153.5,724.2 1157.5,736.8 1161.5,747.9 1165.5,744.0 1169.5,752.7 1173.5,760.7 1177.5,759.7 1181.5,746.7 1185.5,725.1 1189.5,744.8 1193.5,744.3 1197.5,743.4 1201.5,735.7 1205.5,742.9 1209.5,740.8 1213.5,753.7 1217.5,759.1 1221.5,769.3 1225.5,768.2 1229.5,732.0 1233.5,765.2 1237.5,756.4 1241.5,795.6 1245.5,797.4 1249.5,776.8 1253.5,763.1 1257.5,797.2 1261.5,814.5 1265.5,820.1 1269.5,806.0 1273.5,797.7 1277.5,776.9 1281.5,762.6 1285.5,733.5 1289.5,723.2 1293.5,725.2 1297.5,727.3 1301.5,751.2 1305.5,771.9 1309.5,781.7 1313.5,761.8 1317.5,760.7 1321.5,762.9 1325.5,765.7 1329.5,766.7" fill="none" stroke="#20b2aa" stroke-width="1"/>
</g>
</svg>
<svg width="1920" height="890" style="position:absolute;left:0;top:0" shape-rendering="crispEdges">
<rect x="4" y="9" width="1851" height="1" fill="#000"/>
<rect x="4" y="9" width="1" height="650" fill="#000"/>
<rect x="1854" y="9" width="1" height="650" fill="#000"/>
<rect x="4" y="658" width="1851" height="1" fill="#000"/>
<rect x="4" y="660" width="1851" height="1" fill="#000"/>
<rect x="4" y="660" width="1" height="202" fill="#000"/>
<rect x="1854" y="660" width="1" height="202" fill="#000"/>
<rect x="4" y="861" width="1851" height="1" fill="#000"/>
<polygon points="5,855 11,861 5,861" fill="#c0c0c0"/>
<rect x="1854" y="567" width="1" height="1" fill="#c0c0c0"/>
<rect x="1855" y="51" width="3" height="1" fill="#000"/><rect x="1855" y="100" width="3" height="1" fill="#000"/><rect x="1855" y="149" width="3" height="1" fill="#000"/><rect x="1855" y="198" width="3" height="1" fill="#000"/><rect x="1855" y="247" width="3" height="1" fill="#000"/><rect x="1855" y="296" width="3" height="1" fill="#000"/><rect x="1855" y="345" width="3" height="1" fill="#000"/><rect x="1855" y="394" width="3" height="1" fill="#000"/><rect x="1855" y="443" width="3" height="1" fill="#000"/><rect x="1855" y="492" width="3" height="1" fill="#000"/><rect x="1855" y="541" width="3" height="1" fill="#000"/><rect x="1855" y="590" width="3" height="1" fill="#000"/><rect x="1855" y="639" width="3" height="1" fill="#000"/><rect x="1855" y="661" width="3" height="1" fill="#000"/><rect x="1855" y="751" width="3" height="1" fill="#000"/><rect x="5" y="862" width="1" height="4" fill="#000"/><rect x="101" y="862" width="1" height="4" fill="#000"/><rect x="197" y="862" width="1" height="4" fill="#000"/><rect x="293" y="862" width="1" height="4" fill="#000"/><rect x="389" y="862" width="1" height="4" fill="#000"/><rect x="485" y="862" width="1" height="4" fill="#000"/><rect x="581" y="862" width="1" height="4" fill="#000"/><rect x="677" y="862" width="1" height="4" fill="#000"/><rect x="773" y="862" width="1" height="4" fill="#000"/><rect x="869" y="862" width="1" height="4" fill="#000"/><rect x="965" y="862" width="1" height="4" fill="#000"/><rect x="1061" y="862" width="1" height="4" fill="#000"/><rect x="1157" y="862" width="1" height="4" fill="#000"/><rect x="1253" y="862" width="1" height="4" fill="#000"/><polygon points="1069.5,10 1081,10 1075.3,16" fill="#c0c0c0" shape-rendering="geometricPrecision"/>
</svg>
<div style="position:absolute;left:8px;top:17px;width:0;height:0;border-left:5px solid transparent;border-right:5px solid transparent;border-top:5.5px solid #000;"></div>
<div class="t" style="left:22px;top:13px;letter-spacing:-0.15px">USD.X,H4</div>
<div class="t" style="left:84px;top:13px;letter-spacing:0.42px">101.156 101.216 101.081 101.116</div>
<div class="t" style="left:9px;top:665px;letter-spacing:0.25px">CCI(14) -52.4313</div>
<div class="pl" style="top:45px">105.765</div>
<div class="pl" style="top:94px">105.320</div>
<div class="pl" style="top:143px">104.880</div>
<div class="pl" style="top:192px">104.440</div>
<div class="pl" style="top:241px">103.995</div>
<div class="pl" style="top:290px">103.555</div>
<div class="pl" style="top:339px">103.115</div>
<div class="pl" style="top:388px">102.670</div>
<div class="pl" style="top:437px">102.230</div>
<div class="pl" style="top:486px">101.790</div>
<div class="pl" style="top:535px">101.350</div>
<div class="pl" style="top:584px">100.905</div>
<div class="pl" style="top:633px">100.465</div>
<div class="box" style="top:476px;background:#0000ff"></div><div class="bt" style="top:476px">101.883</div>
<div class="box" style="top:514px;background:#0000ff"></div><div class="bt" style="top:514px">101.539</div>
<div class="box" style="top:560px;background:#000"></div><div class="bt" style="top:560px">101.116</div>
<div class="cl" style="top:664px">309.9378</div>
<div class="cl" style="top:716px">100</div>
<div class="cl" style="top:745px">0.00</div>
<div class="cl" style="top:774px">-100</div>
<div class="cl" style="top:847px">-380.2227</div>
<div class="tl" style="left:5px">8 Feb 2023</div>
<div class="tl" style="left:101px">14 Feb 15:00</div>
<div class="tl" style="left:197px">20 Feb 15:00</div>
<div class="tl" style="left:293px">24 Feb 15:00</div>
<div class="tl" style="left:389px">2 Mar 15:00</div>
<div class="tl" style="left:485px">8 Mar 15:00</div>
<div class="tl" style="left:581px">14 Mar 15:00</div>
<div class="tl" style="left:677px">20 Mar 15:00</div>
<div class="tl" style="left:773px">24 Mar 15:00</div>
<div class="tl" style="left:869px">30 Mar 15:00</div>
<div class="tl" style="left:965px">5 Apr 15:00</div>
<div class="tl" style="left:1061px">12 Apr 07:00</div>
<div class="tl" style="left:1157px">18 Apr 07:00</div>
<div class="tl" style="left:1253px">24 Apr 07:00</div>
<div style="position:absolute;left:1554px;top:810px;font-size:25px;line-height:28px;color:#cdcdcd;white-space:nowrap;">Activate Windows</div>
<div style="position:absolute;left:1554px;top:844px;font-size:18px;line-height:20px;color:#cdcdcd;white-space:nowrap;">Go to Settings to activate Windows.</div>
</body></html>
